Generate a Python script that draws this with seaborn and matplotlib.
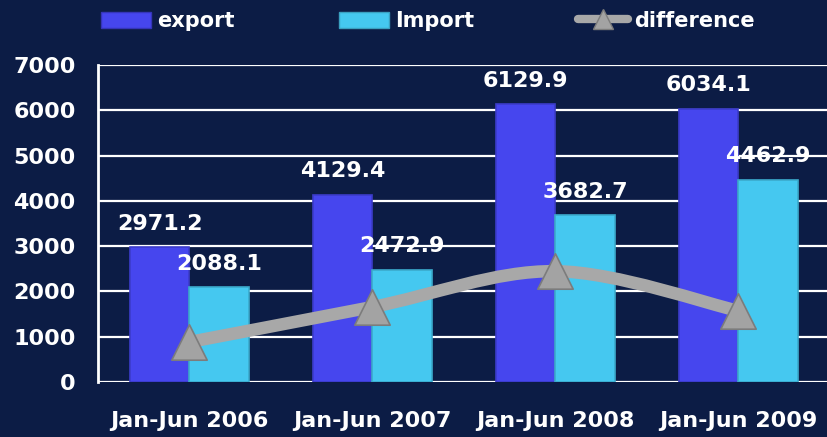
import matplotlib
matplotlib.use("Agg")
import matplotlib.pyplot as plt
import seaborn as sns
import pandas as pd
import numpy as np
from matplotlib.path import Path
from matplotlib.patches import PathPatch, Patch
from matplotlib.lines import Line2D

periods = ["Jan-Jun 2006", "Jan-Jun 2007", "Jan-Jun 2008", "Jan-Jun 2009"]
export_vals = [2971.2, 4129.4, 6129.9, 6034.1]
import_vals = [2088.1, 2472.9, 3682.7, 4462.9]
diff_vals = [883.1, 1656.5, 2447.2, 1571.2]
yticks = [0, 1000, 2000, 3000, 4000, 5000, 6000, 7000]

BG = "#0c1c45"
C_EXP = "#4646ee"
C_IMP = "#45c8f0"
C_DIFF = "#a8a8a8"

df = pd.DataFrame({
    "period": periods * 2,
    "value": export_vals + import_vals,
    "series": ["export"] * 4 + ["Import"] * 4,
})

sns.set_theme(style="white")
plt.rcParams["font.family"] = ["DejaVu Sans"]
plt.rcParams["font.weight"] = "bold"

fig = plt.figure(figsize=(8.27, 4.37), dpi=100, facecolor=BG)
ax = fig.add_axes([98 / 827, 1 - 382 / 437, (827 - 98) / 827, (382 - 65) / 437])
ax.set_facecolor(BG)

sns.barplot(data=df, x="period", y="value", hue="series",
            palette=[C_EXP, C_IMP], saturation=1, width=0.65, dodge=True, ax=ax,
            edgecolor="none", legend=False, zorder=2)

# subtle bevel: darker edge
for p in ax.patches:
    fc = p.get_facecolor()
    p.set_edgecolor(tuple(max(0, c * 0.85) for c in fc[:3]) + (1,))
    p.set_linewidth(1.2)

ax.set_xlim(-0.5, 3.485)
ax.set_ylim(0, 7000)
ax.set_yticks(yticks)
ax.set_yticklabels([str(v) for v in yticks])
ax.grid(axis="y", color="white", linewidth=1.6, zorder=1)
ax.set_axisbelow(True)
for s in ["top", "right", "bottom"]:
    ax.spines[s].set_visible(False)
ax.spines["left"].set_color("white")
ax.spines["left"].set_linewidth(2)
ax.set_xlabel("")
ax.set_ylabel("")

ax.tick_params(axis="y", colors="white", length=8, width=1.6, direction="out",
               labelsize=16, pad=8)
ax.tick_params(axis="x", which="major", length=0, colors="white", labelsize=16, pad=21)
ax.set_xticks([0.5, 1.5, 2.5], minor=True)
ax.tick_params(axis="x", which="minor", length=6, width=2, colors="white", direction="out")
for lbl in ax.get_xticklabels() + ax.get_yticklabels():
    lbl.set_fontweight("bold")
    lbl.set_color("white")

# smooth difference line (Catmull-Rom through the data points)
xs = np.arange(len(diff_vals), dtype=float)
pts = np.column_stack([xs, diff_vals])
ext = np.vstack([pts[0], pts, pts[-1]])
verts = [tuple(pts[0])]
codes = [Path.MOVETO]
for i in range(len(pts) - 1):
    p0, p1, p2, p3 = ext[i], ext[i + 1], ext[i + 2], ext[i + 3]
    c1 = p1 + (p2 - p0) / 6
    c2 = p2 - (p3 - p1) / 6
    verts += [tuple(c1), tuple(c2), tuple(p2)]
    codes += [Path.CURVE4] * 3
ax.add_patch(PathPatch(Path(verts, codes), facecolor="none", edgecolor=C_DIFF,
                       linewidth=9, zorder=3, capstyle="butt"))
sns.scatterplot(x=xs, y=diff_vals, marker="^", s=650, color="#a3a3a3",
                edgecolor="#7c7c7c", linewidth=1.2, zorder=4, ax=ax, legend=False)

# value labels
off = 0.1625
for i in range(len(periods)):
    ax.annotate(f"{export_vals[i]:.1f}", (i - off, export_vals[i]), xytext=(0, 17),
                textcoords="offset points", ha="center", va="center",
                color="white", fontsize=16, fontweight="bold", zorder=5)
    ax.annotate(f"{import_vals[i]:.1f}", (i + off, import_vals[i]), xytext=(0, 17),
                textcoords="offset points", ha="center", va="center",
                color="white", fontsize=16, fontweight="bold", zorder=5)

handles = [
    Patch(facecolor=C_EXP, edgecolor="#3535b8"),
    Patch(facecolor=C_IMP, edgecolor="#3aa0c0"),
    Line2D([0], [0], color=C_DIFF, linewidth=6, marker="^", markersize=14,
           markerfacecolor="#a3a3a3", markeredgecolor="#7c7c7c"),
]
leg = fig.legend(handles, ["export", "Import", "difference"], loc="center",
                 bbox_to_anchor=(428 / 827, 1 - 21 / 437), ncol=3, frameon=False,
                 prop={"size": 15, "weight": "bold"}, handlelength=2.4,
                 handleheight=0.8, handletextpad=0.3, columnspacing=5.0)
for t in leg.get_texts():
    t.set_color("white")

fig.savefig("out.png", dpi=100, facecolor=BG)
